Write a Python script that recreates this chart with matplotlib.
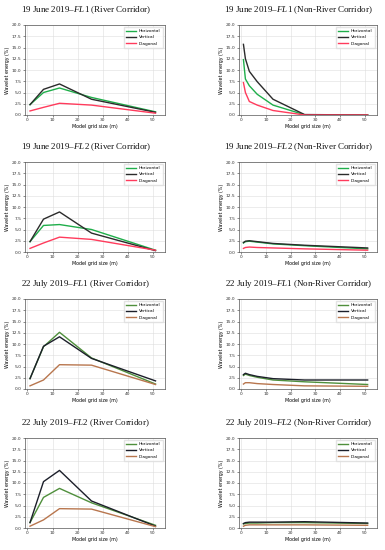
import matplotlib
matplotlib.use("Agg")
import matplotlib.pyplot as plt

plt.rcParams.update({
    "font.family": "DejaVu Sans",
    "mathtext.fontset": "custom",
    "mathtext.rm": "Liberation Serif",
    "mathtext.it": "Liberation Serif:italic",
    "axes.linewidth": 0.5,
    "grid.linewidth": 0.4,
})

# grid sizes (m)
X_RIVER = [1.0, 6.4, 12.8, 25.6, 51.2]
X_NONRIVER = [0.8, 1.6, 3.2, 6.4, 12.8, 25.6, 51.2]

TITLES = [
    ("19 June 2019–", "FL1", " (River Corridor)"),
    ("19 June 2019–", "FL1", " (Non-River Corridor)"),
    ("19 June 2019–", "FL2", " (River Corridor)"),
    ("19 June 2019–", "FL2", " (Non-River Corridor)"),
    ("22 July 2019–", "FL1", " (River Corridor)"),
    ("22 July 2019–", "FL1", " (Non-River Corridor)"),
    ("22 July 2019–", "FL2", " (River Corridor)"),
    ("22 July 2019–", "FL2", " (Non-River Corridor)"),
]

# wavelet energy (%) per panel: horizontal, vertical, diagonal
JUN_FL1_RIV_H = [2.3, 5.0, 6.0, 3.9, 0.7]
JUN_FL1_RIV_V = [2.3, 5.7, 6.9, 3.5, 0.6]
JUN_FL1_RIV_D = [0.9, 1.7, 2.6, 2.2, 0.4]

JUN_FL1_NON_H = [12.3, 8.0, 6.5, 4.6, 2.2, 0.05, 0.0]
JUN_FL1_NON_V = [15.7, 12.5, 9.7, 7.4, 3.5, 0.1, 0.0]
JUN_FL1_NON_D = [7.2, 5.0, 3.0, 2.2, 1.0, 0.0, 0.0]

JUN_FL2_RIV_H = [2.3, 5.9, 6.1, 5.0, 0.4]
JUN_FL2_RIV_V = [2.3, 7.3, 8.9, 4.2, 0.3]
JUN_FL2_RIV_D = [0.8, 2.0, 3.3, 2.8, 0.4]

JUN_FL2_NON_H = [2.0, 2.3, 2.4, 2.2, 1.8, 1.4, 0.7]
JUN_FL2_NON_V = [2.1, 2.4, 2.5, 2.3, 1.9, 1.5, 0.9]
JUN_FL2_NON_D = [0.8, 1.0, 1.1, 1.0, 0.9, 0.7, 0.4]

JUL_FL1_RIV_H = [2.3, 9.4, 12.6, 6.9, 1.1]
JUL_FL1_RIV_V = [2.3, 9.5, 11.6, 6.8, 1.8]
JUL_FL1_RIV_D = [0.7, 2.0, 5.4, 5.3, 1.0]

JUL_FL1_NON_H = [3.0, 3.3, 3.0, 2.6, 2.0, 1.6, 1.0]
JUL_FL1_NON_V = [3.2, 3.5, 3.2, 2.8, 2.3, 2.0, 2.0]
JUL_FL1_NON_D = [1.1, 1.4, 1.4, 1.2, 1.0, 0.7, 0.6]

JUL_FL2_RIV_H = [1.2, 6.8, 8.8, 5.6, 0.6]
JUL_FL2_RIV_V = [1.2, 10.3, 12.8, 6.0, 0.4]
JUL_FL2_RIV_D = [0.4, 1.8, 4.3, 4.2, 0.3]

JUL_FL2_NON_H = [0.9, 1.0, 1.1, 1.1, 1.2, 1.2, 1.0]
JUL_FL2_NON_V = [1.0, 1.2, 1.3, 1.3, 1.3, 1.4, 1.1]
JUL_FL2_NON_D = [0.4, 0.6, 0.7, 0.7, 0.7, 0.7, 0.6]

PANELS = [
    (X_RIVER, JUN_FL1_RIV_H, JUN_FL1_RIV_V, JUN_FL1_RIV_D),
    (X_NONRIVER, JUN_FL1_NON_H, JUN_FL1_NON_V, JUN_FL1_NON_D),
    (X_RIVER, JUN_FL2_RIV_H, JUN_FL2_RIV_V, JUN_FL2_RIV_D),
    (X_NONRIVER, JUN_FL2_NON_H, JUN_FL2_NON_V, JUN_FL2_NON_D),
    (X_RIVER, JUL_FL1_RIV_H, JUL_FL1_RIV_V, JUL_FL1_RIV_D),
    (X_NONRIVER, JUL_FL1_NON_H, JUL_FL1_NON_V, JUL_FL1_NON_D),
    (X_RIVER, JUL_FL2_RIV_H, JUL_FL2_RIV_V, JUL_FL2_RIV_D),
    (X_NONRIVER, JUL_FL2_NON_H, JUL_FL2_NON_V, JUL_FL2_NON_D),
]

JUNE_COLORS = ["#1fae4a", "#2b2b2b", "#ff3b5c"]
JULY_COLORS = ["#4f8f3c", "#1c1f2a", "#b8764e"]
SERIES = ["Horizontal", "Vertical", "Diagonal"]

W, H = 385, 550
fig = plt.figure(figsize=(W / 100, H / 100), dpi=100)

# pixel boxes: (left, top) for each column / row
COL_LEFT = [25, 239]
COL_WIDTH = [140, 138]
ROW_TOP = [25, 162, 299, 438]
AX_H = 90

for i, (x, h, v, d) in enumerate(PANELS):
    r, c = divmod(i, 2)
    left, top = COL_LEFT[c], ROW_TOP[r]
    ax = fig.add_axes([left / W, 1 - (top + AX_H) / H, COL_WIDTH[c] / W, AX_H / H])
    colors = JUNE_COLORS if r < 2 else JULY_COLORS
    for ys, col, lab in zip([h, v, d], colors, SERIES):
        ax.plot(x, ys, color=col, lw=1.0, label=lab)
    ax.set_xlim(-1, 55)
    ax.set_ylim(0, 20)
    ax.set_xticks([0, 10, 20, 30, 40, 50])
    ax.set_yticks([0, 2.5, 5, 7.5, 10, 12.5, 15, 17.5, 20])
    ax.set_yticklabels([f"{t:.1f}" for t in ax.get_yticks()])
    ax.tick_params(labelsize=3.2, length=1.5, width=0.4, pad=1, colors="#333333")
    ax.grid(True, color="#dddddd")
    for sp in ax.spines.values():
        sp.set_edgecolor("#555555")
    ax.set_xlabel("Model grid size (m)", fontsize=3.4, labelpad=1)
    ax.set_ylabel("Wavelet energy (%)", fontsize=3.4, labelpad=1)
    ax.legend(loc="upper right", fontsize=3.1, frameon=True, fancybox=False,
              edgecolor="#dddddd", handlelength=2.3, borderpad=0.5,
              labelspacing=0.5)

    pre, it, post = TITLES[i]
    cx = (left + COL_WIDTH[c] / 2 - 9) / W
    fig.text(cx, 1 - (top - 15) / H, pre + r"$\mathit{" + it + "}$" + post,
             ha="center", va="center", fontsize=6.5,
             family="Liberation Serif", color="#111111")

fig.savefig("out.png", dpi=100, facecolor="white")
